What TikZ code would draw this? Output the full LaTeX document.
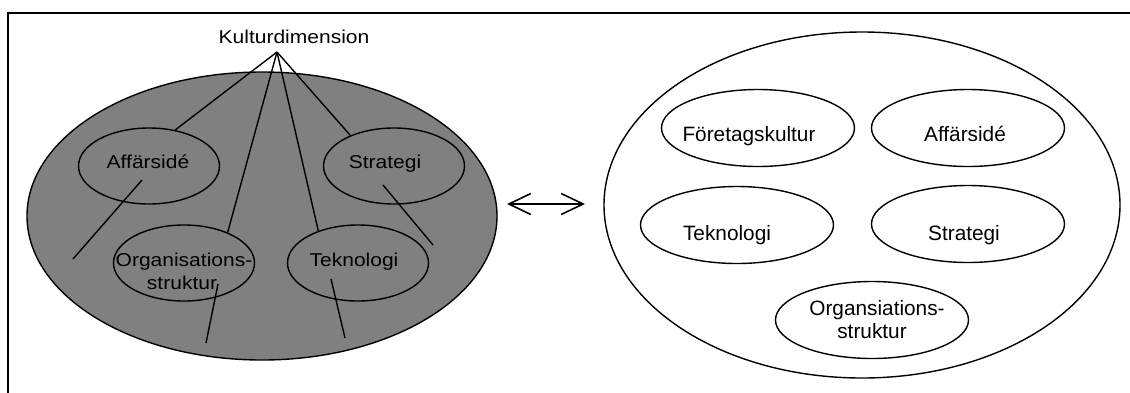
\documentclass[tikz,border=0pt]{standalone}
\usepackage{fontspec}
\setmainfont{Liberation Sans}
\newfontfamily\leftfont[FakeStretch=1.13]{Liberation Sans}
\newfontfamily\rightfont{Liberation Sans}
\usetikzlibrary{shapes.geometric,arrows.meta}

\tikzset{
  oval/.style={ellipse, draw=black, line width=1.4pt, inner sep=0pt},
  subL/.style={oval, minimum width=141pt, minimum height=76pt},
  subR/.style={oval, minimum width=193pt, minimum height=77pt},
  ltext/.style={anchor=base, inner sep=0pt, font=\leftfont\fontsize{18.6}{23}\selectfont},
  rtext/.style={anchor=base, inner sep=0pt, font=\rightfont\fontsize{20.8}{25}\selectfont},
  link/.style={draw=black, line width=1.4pt},
  twoway/.style={draw=black, line width=1.6pt, {Straight Barb[length=22pt,width=21pt]}-{Straight Barb[length=22pt,width=21pt]}}
}

\begin{document}
\begin{tikzpicture}[x=1pt, y=-1pt]
\useasboundingbox (0,0) rectangle (1130,392);
\clip (0,0) rectangle (1130,392);

% outer frame
\draw[line width=2pt] (8,400) -- (8,13) -- (1140,13);

% left: culture dimension over the grey field
\node[oval, fill=black!50, minimum width=470pt, minimum height=288pt] (field) at (262,216) {};

\node[subL] (affL) at (149,166) {};
\node[subL] (strL) at (394,166) {};
\node[subL] (orgL) at (184,263) {};
\node[subL] (tekL) at (358,263) {};

\node[ltext] (kultur) at (294,43.5) {Kulturdimension};
\node[ltext] (taffL) at (148,168) {Affärsidé};
\node[ltext] (tstrL) at (385,168) {Strategi};
\node[ltext] (torgL) at (184,266) {Organisations-};
\node[ltext] (torgL2) at (182,289) {struktur};
\node[ltext] (ttekL) at (354,266) {Teknologi};

\coordinate (apex) at (277,52);
\draw[link] (apex) -- (affL.54);
\draw[link] (apex) -- (orgL.35);
\draw[link] (apex) -- (tekL.141);
\draw[link] (apex) -- (strL.145);

% strokes running on below the sub-ovals
\coordinate (affIn) at (142,180);  \coordinate (affOut) at (73,259);
\coordinate (strIn) at (383,185);  \coordinate (strOut) at (433,245);
\coordinate (orgIn) at (218,284);  \coordinate (orgOut) at (206,343);
\coordinate (tekIn) at (331,279);  \coordinate (tekOut) at (345,338);
\draw[link] (affIn) -- (affOut);
\draw[link] (strIn) -- (strOut);
\draw[link] (orgIn) -- (orgOut);
\draw[link] (tekIn) -- (tekOut);

% two-way relation
\coordinate (arrL) at (507,204);
\coordinate (arrR) at (585,204);
\draw[twoway] (arrL) -- (arrR);

% right: the separate components
\node[oval, minimum width=516pt, minimum height=346pt] (whole) at (862,205) {};

\node[subR] (foeR) at (758,128) {};
\node[subR] (affR) at (968,128) {};
\node[subR] (tekR) at (737,225) {};
\node[subR] (strR) at (968,224) {};
\node[subR] (orgR) at (872,320) {};

\node[rtext] (tfoeR) at (749,141.5) {Företagskultur};
\node[rtext] (taffR) at (965,141.5) {Affärsidé};
\node[rtext] (ttekR) at (727,240) {Teknologi};
\node[rtext] (tstrR) at (964,240) {Strategi};
\node[rtext] (torgR) at (877,315) {Organsiations-};
\node[rtext] (torgR2) at (872,338) {struktur};
\end{tikzpicture}
\end{document}
